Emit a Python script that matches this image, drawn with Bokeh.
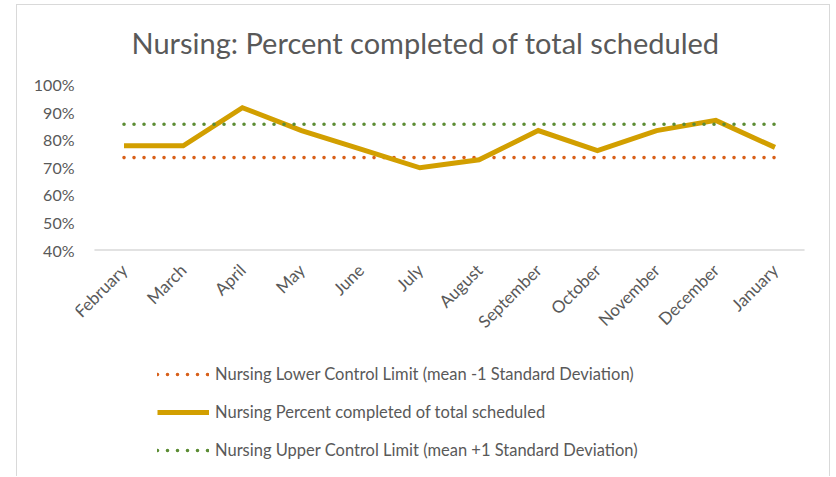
from bokeh.plotting import figure
from bokeh.layouts import column
from bokeh.models import Range1d, FactorRange, Legend, LegendItem, Title, ColumnDataSource
from bokeh.embed import file_html
from bokeh.resources import INLINE
import math

months = ["February", "March", "April", "May", "June", "July", "August",
          "September", "October", "November", "December", "January"]
pct_completed = [0.778, 0.778, 0.916, 0.833, 0.766, 0.698, 0.727, 0.833, 0.760, 0.833, 0.870, 0.772]
lower_limit = [0.735] * 12
upper_limit = [0.856] * 12
y_ticks = [0.4, 0.5, 0.6, 0.7, 0.8, 0.9, 1.0]
y_tick_labels = {0.4: "40%", 0.5: "50%", 0.6: "60%", 0.7: "70%", 0.8: "80%", 0.9: "90%", 1.0: "100%"}

FONT = "Lato"
GREY = "#595959"

W, H = 812, 479
B_LEFT, B_RIGHT, B_TOP = 58, 6, 87
plot_px = 165.5                      # pixel height of the 40%..100% span
frame_h = H - B_TOP
y_end = y_ticks[-1]
y_start = y_end - frame_h * (y_ticks[-1] - y_ticks[0]) / plot_px

x_range = FactorRange(*months, range_padding=0.32, range_padding_units="absolute")
p = figure(x_range=x_range, y_range=Range1d(y_start, y_end), width=W, height=H,
           output_backend="svg", toolbar_location=None,
           min_border_left=B_LEFT, min_border_right=B_RIGHT, min_border_top=B_TOP,
           min_border_bottom=0, margin=(-8, 0, 0, 0))
p.outline_line_color = None
p.grid.grid_line_color = None
p.background_fill_color = "white"
p.border_fill_alpha = 0

t = Title(text="Nursing: Percent completed of total scheduled", align="left", offset=56,
          text_font=FONT, text_font_size="29px", text_font_style="normal",
          text_color=GREY, standoff=50)
p.add_layout(t, "above")

# category axis line and labels (axis sits at the 40% level, inside the extended frame)
p.segment(x0=[(months[0], -0.5)], y0=[y_ticks[0]], x1=[(months[-1], 0.5)], y1=[y_ticks[0]],
          line_color="#d9d9d9", line_width=1.5)
lab_src = ColumnDataSource(dict(x=months, y=[y_ticks[0]] * len(months), text=months))
p.text(x="x", y="y", text="text", source=lab_src, angle=math.pi / 4,
       text_align="right", text_baseline="middle", x_offset=0, y_offset=17,
       text_font_size="17px", text_color=GREY, text_font={"value": FONT})

r_lcl = p.line(months, lower_limit, line_color="#d8601a", line_width=3.6,
               line_dash="0 10", line_cap="round")
r_pct = p.line(months, pct_completed, line_color="#d29f00", line_width=5,
               line_join="miter")
r_ucl = p.line(months, upper_limit, line_color="#5b8c33", line_width=3.6,
               line_dash="0 10", line_cap="round")

p.xaxis.visible = False
p.yaxis.ticker = y_ticks
p.yaxis.major_label_overrides = y_tick_labels
p.yaxis.axis_line_color = None
p.yaxis.major_tick_line_color = None
p.yaxis.minor_tick_line_color = None
p.yaxis.major_label_standoff = -5
p.yaxis.major_label_text_font = FONT
p.yaxis.major_label_text_font_size = "16px"
p.yaxis.major_label_text_color = GREY

legend = Legend(items=[
    LegendItem(label="Nursing Lower Control Limit (mean -1 Standard Deviation)", renderers=[r_lcl]),
    LegendItem(label="Nursing Percent completed of total scheduled", renderers=[r_pct]),
    LegendItem(label="Nursing Upper Control Limit (mean +1 Standard Deviation)", renderers=[r_ucl]),
], location=(82, 16), orientation="vertical")
legend.border_line_color = None
legend.background_fill_alpha = 0
legend.padding = 0
legend.margin = 0
legend.spacing = 18
legend.glyph_width = 52
legend.glyph_height = 20
legend.label_height = 20
legend.label_standoff = 6
legend.label_text_font = FONT
legend.label_text_font_size = "16.5px"
legend.label_text_color = GREY
p.add_layout(legend, "center")

layout = column(p, margin=(4, 0, 0, 16),
                styles={"border-left": "1px solid #d9d9d9", "border-top": "1px solid #d9d9d9",
                        "border-right": "1px solid #d9d9d9", "background": "white"})

open("out.html", "w").write(file_html(layout, INLINE))
